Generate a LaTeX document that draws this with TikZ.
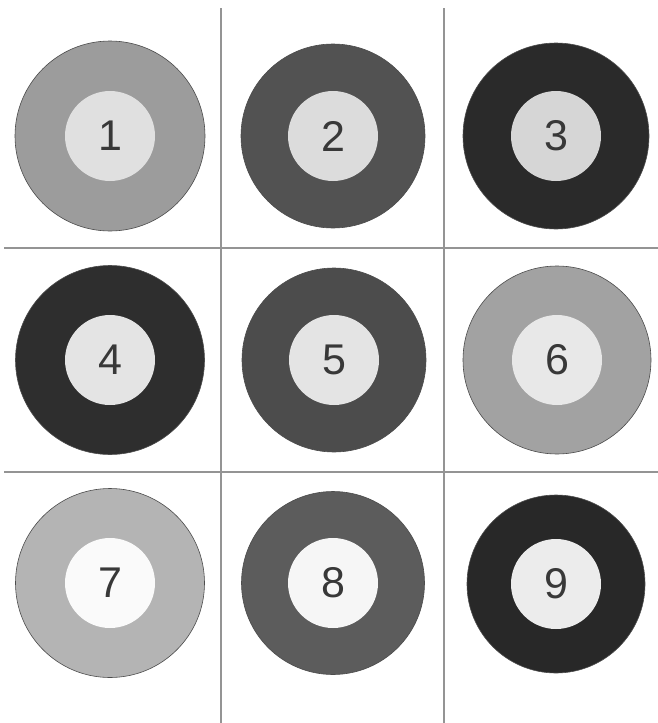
\documentclass[tikz,border=0pt]{standalone}
\usepackage{fontspec}
\setmainfont{Liberation Sans}
\begin{document}
\begin{tikzpicture}[x=1pt,y=-1pt,
  gridline/.style={draw=black!42,line width=2.8pt},
  ring/.style={circle,inner sep=0pt,minimum size=186pt,draw=black!70,line width=0.6pt},
  hub/.style={circle,inner sep=0pt,minimum size=90pt,font=\fontsize{43}{43}\selectfont,text=black!78}]
\useasboundingbox (0,0) rectangle (658,723);
\fill[white] (0,0) rectangle (658,723);
% grid
\coordinate (v1t) at (221,8); \coordinate (v1b) at (221,723);
\coordinate (v2t) at (444,8); \coordinate (v2b) at (444,723);
\coordinate (h1l) at (4,248); \coordinate (h1r) at (658,248);
\coordinate (h2l) at (4,472); \coordinate (h2r) at (658,472);
\draw[gridline] (v1t) -- (v1b);
\draw[gridline] (v2t) -- (v2b);
\draw[gridline] (h1l) -- (h1r);
\draw[gridline] (h2l) -- (h2r);
% rings
\node[ring,fill={rgb,255:red,156;green,156;blue,156},minimum size=190pt] (r1) at (110,136) {};
\node[ring,fill={rgb,255:red,82;green,82;blue,82},minimum size=184pt] (r2) at (333,136) {};
\node[ring,fill={rgb,255:red,42;green,42;blue,42},minimum size=186pt] (r3) at (556,136) {};
\node[ring,fill={rgb,255:red,46;green,46;blue,46},minimum size=189pt] (r4) at (110,360) {};
\node[ring,fill={rgb,255:red,76;green,76;blue,76},minimum size=184pt] (r5) at (334,360) {};
\node[ring,fill={rgb,255:red,162;green,162;blue,162},minimum size=188pt] (r6) at (557,360) {};
\node[ring,fill={rgb,255:red,180;green,180;blue,180},minimum size=189pt] (r7) at (110,583) {};
\node[ring,fill={rgb,255:red,92;green,92;blue,92},minimum size=183pt] (r8) at (333,583) {};
\node[ring,fill={rgb,255:red,40;green,40;blue,40},minimum size=178pt] (r9) at (556,584) {};
% hubs
\node[hub,fill={rgb,255:red,224;green,224;blue,224}] (c1) at (r1.center) {1};
\node[hub,fill={rgb,255:red,220;green,220;blue,220}] (c2) at (r2.center) {2};
\node[hub,fill={rgb,255:red,214;green,214;blue,214}] (c3) at (r3.center) {3};
\node[hub,fill={rgb,255:red,228;green,228;blue,228}] (c4) at (r4.center) {4};
\node[hub,fill={rgb,255:red,228;green,228;blue,228}] (c5) at (r5.center) {5};
\node[hub,fill={rgb,255:red,232;green,232;blue,232}] (c6) at (r6.center) {6};
\node[hub,fill={rgb,255:red,250;green,250;blue,250}] (c7) at (r7.center) {7};
\node[hub,fill={rgb,255:red,246;green,246;blue,246}] (c8) at (r8.center) {8};
\node[hub,fill={rgb,255:red,236;green,236;blue,236}] (c9) at (r9.center) {9};
\end{tikzpicture}
\end{document}
